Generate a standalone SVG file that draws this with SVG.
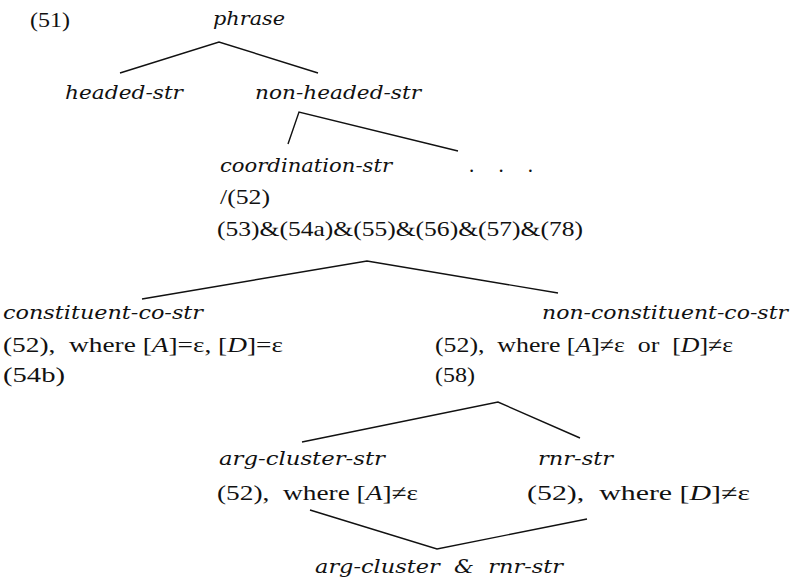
<svg xmlns="http://www.w3.org/2000/svg" width="800" height="581" viewBox="0 0 800 581">
<style>
text{fill:#111;white-space:pre}
.r{font-family:"Liberation Serif","Times New Roman",serif;font-size:21px}
.i{font-family:"DejaVu Serif","Liberation Serif",serif;font-style:italic;font-size:19px}
.it{font-style:italic}
.c{fill:none;stroke:#111;stroke-width:1.4}
</style>
<rect width="800" height="581" fill="#fff"/>
<g id="connectors">
<polyline class="c" points="120,73 219,42 318,73"/>
<polyline class="c" points="288,144 299,112 458,151"/>
<polyline class="c" points="142,299 367,261 558,293"/>
<polyline class="c" points="302,442 498,402 580,438"/>
<polyline class="c" points="310,510 437,549 587,519"/>
</g>
<g id="label51"><text class="r" x="30" y="27" textLength="40" lengthAdjust="spacingAndGlyphs">(51)</text></g>
<g id="phrase"><text class="i" x="213" y="25" textLength="72" lengthAdjust="spacingAndGlyphs">phrase</text></g>
<g id="headed-str"><text class="i" x="65" y="99" textLength="118" lengthAdjust="spacingAndGlyphs">headed-str</text></g>
<g id="non-headed-str"><text class="i" x="255" y="99" textLength="166" lengthAdjust="spacingAndGlyphs">non-headed-str</text></g>
<g id="coordination-str">
<text class="i" x="220" y="172" textLength="172" lengthAdjust="spacingAndGlyphs">coordination-str</text>
<text class="r" x="220" y="204" textLength="50" lengthAdjust="spacingAndGlyphs">/(52)</text>
<text class="r" x="217" y="236" textLength="366" lengthAdjust="spacingAndGlyphs">(53)&amp;(54a)&amp;(55)&amp;(56)&amp;(57)&amp;(78)</text>
</g>
<g id="ellipsis"><text class="r" x="469" y="172" textLength="64" lengthAdjust="spacing">. . .</text></g>
<g id="constituent-co-str">
<text class="i" x="3" y="319" textLength="200" lengthAdjust="spacingAndGlyphs">constituent-co-str</text>
<text class="r" x="3" y="352" textLength="280" lengthAdjust="spacingAndGlyphs">(52),  where [<tspan class="it">A</tspan>]=ε, [<tspan class="it">D</tspan>]=ε</text>
<text class="r" x="3" y="382" textLength="62" lengthAdjust="spacingAndGlyphs">(54b)</text>
</g>
<g id="non-constituent-co-str">
<text class="i" x="542" y="319" textLength="246" lengthAdjust="spacingAndGlyphs">non-constituent-co-str</text>
<text class="r" x="435" y="352" textLength="298" lengthAdjust="spacingAndGlyphs">(52),  where [<tspan class="it">A</tspan>]≠ε  or  [<tspan class="it">D</tspan>]≠ε</text>
<text class="r" x="435" y="382" textLength="40" lengthAdjust="spacingAndGlyphs">(58)</text>
</g>
<g id="arg-cluster-str">
<text class="i" x="219" y="465" textLength="166" lengthAdjust="spacingAndGlyphs">arg-cluster-str</text>
<text class="r" x="217" y="500" textLength="201" lengthAdjust="spacingAndGlyphs">(52),  where [<tspan class="it">A</tspan>]≠ε</text>
</g>
<g id="rnr-str">
<text class="i" x="538" y="465" textLength="75" lengthAdjust="spacingAndGlyphs">rnr-str</text>
<text class="r" x="527" y="500" textLength="223" lengthAdjust="spacingAndGlyphs">(52),  where [<tspan class="it">D</tspan>]≠ε</text>
</g>
<g id="arg-cluster-rnr-str"><text class="i" x="315" y="573" textLength="248" lengthAdjust="spacingAndGlyphs">arg-cluster  &amp;  rnr-str</text></g>
</svg>
